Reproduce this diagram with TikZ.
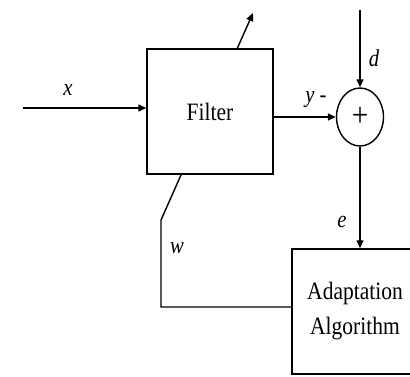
\documentclass[tikz,border=0pt]{standalone}
\usepackage{fontspec}
\setmainfont{Liberation Serif}[FakeStretch=0.86]
\usetikzlibrary{arrows.meta,shapes.geometric}
\tikzset{
  block/.style={draw, fill=white, line width=0.7pt, minimum width=63pt, minimum height=62.5pt, inner sep=0pt, font=\fontsize{12.5}{17.5}\selectfont, align=center},
  sumnode/.style={draw, ellipse, line width=0.7pt, minimum width=23.5pt, minimum height=29pt, inner sep=0pt, font=\fontsize{17}{17}\selectfont},
  sig/.style={font=\fontsize{12}{14}\selectfont\itshape},
  flow/.style={line width=0.7pt, -{Triangle[length=4pt, width=3.5pt]}}
}
\begin{document}
\begin{tikzpicture}[x=0.5pt, y=-0.5pt]
    \clip (0,0) rectangle (410,376);
    
    % Blocks and adder
    \node[block] (adapt) at (355,311.5) {Adaptation\\Algorithm};
    \node[sumnode] (sum) at (360,117) {+};
    
    % Free ends
    \coordinate (xin) at (23,108);
    \coordinate (dtop) at (360,10);
    \coordinate (wcorner) at (161,307);
    \coordinate (wbend) at (161,220);
    \coordinate (tune) at (253,13);
    
    % Weight update path (drawn under the filter)
    \draw[flow] (adapt.west |- wcorner) -- (wcorner) -- (wbend) -- (tune);
    \node[block] (filter) at (210,111.5) {Filter};
    
    % Signals
    \draw[flow] (xin) -- (filter.west |- xin);
    \draw[flow] (filter.east |- sum.west) -- (sum.west);
    \draw[flow] (dtop) -- (sum.north);
    \draw[flow] (sum.south) -- (sum.south |- adapt.north);
    
    % Labels
    \node[sig] (xlabel) at (68,90) {x};
    \node[sig] (ylabel) at (316,100) {y -};
    \node[sig] (dlabel) at (374,58) {d};
    \node[sig] (elabel) at (342,222) {e};
    \node[sig] (wlabel) at (177,248) {w};
\end{tikzpicture}
\end{document}
